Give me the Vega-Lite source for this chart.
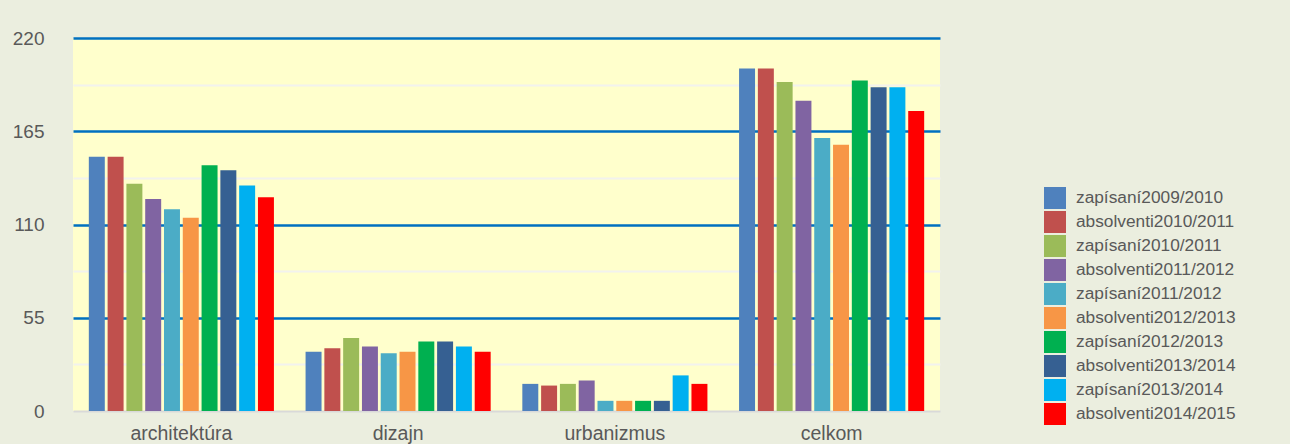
{
  "$schema": "https://vega.github.io/schema/vega-lite/v6.json",
  "width": 867,
  "height": 373,
  "autosize": {"type": "none"},
  "padding": {"left": 73, "top": 38, "right": 350, "bottom": 33},
  "background": "#EBEEDF",
  "data": {
    "values": [
      {"obor": "architektúra", "rok": "zapísaní2009/2010", "pocet": 150},
      {"obor": "architektúra", "rok": "absolventi2010/2011", "pocet": 150},
      {"obor": "architektúra", "rok": "zapísaní2010/2011", "pocet": 134},
      {"obor": "architektúra", "rok": "absolventi2011/2012", "pocet": 125},
      {"obor": "architektúra", "rok": "zapísaní2011/2012", "pocet": 119},
      {"obor": "architektúra", "rok": "absolventi2012/2013", "pocet": 114},
      {"obor": "architektúra", "rok": "zapísaní2012/2013", "pocet": 145},
      {"obor": "architektúra", "rok": "absolventi2013/2014", "pocet": 142},
      {"obor": "architektúra", "rok": "zapísaní2013/2014", "pocet": 133},
      {"obor": "architektúra", "rok": "absolventi2014/2015", "pocet": 126},
      {"obor": "dizajn", "rok": "zapísaní2009/2010", "pocet": 35},
      {"obor": "dizajn", "rok": "absolventi2010/2011", "pocet": 37},
      {"obor": "dizajn", "rok": "zapísaní2010/2011", "pocet": 43},
      {"obor": "dizajn", "rok": "absolventi2011/2012", "pocet": 38},
      {"obor": "dizajn", "rok": "zapísaní2011/2012", "pocet": 34},
      {"obor": "dizajn", "rok": "absolventi2012/2013", "pocet": 35},
      {"obor": "dizajn", "rok": "zapísaní2012/2013", "pocet": 41},
      {"obor": "dizajn", "rok": "absolventi2013/2014", "pocet": 41},
      {"obor": "dizajn", "rok": "zapísaní2013/2014", "pocet": 38},
      {"obor": "dizajn", "rok": "absolventi2014/2015", "pocet": 35},
      {"obor": "urbanizmus", "rok": "zapísaní2009/2010", "pocet": 16},
      {"obor": "urbanizmus", "rok": "absolventi2010/2011", "pocet": 15},
      {"obor": "urbanizmus", "rok": "zapísaní2010/2011", "pocet": 16},
      {"obor": "urbanizmus", "rok": "absolventi2011/2012", "pocet": 18},
      {"obor": "urbanizmus", "rok": "zapísaní2011/2012", "pocet": 6},
      {"obor": "urbanizmus", "rok": "absolventi2012/2013", "pocet": 6},
      {"obor": "urbanizmus", "rok": "zapísaní2012/2013", "pocet": 6},
      {"obor": "urbanizmus", "rok": "absolventi2013/2014", "pocet": 6},
      {"obor": "urbanizmus", "rok": "zapísaní2013/2014", "pocet": 21},
      {"obor": "urbanizmus", "rok": "absolventi2014/2015", "pocet": 16},
      {"obor": "celkom", "rok": "zapísaní2009/2010", "pocet": 202},
      {"obor": "celkom", "rok": "absolventi2010/2011", "pocet": 202},
      {"obor": "celkom", "rok": "zapísaní2010/2011", "pocet": 194},
      {"obor": "celkom", "rok": "absolventi2011/2012", "pocet": 183},
      {"obor": "celkom", "rok": "zapísaní2011/2012", "pocet": 161},
      {"obor": "celkom", "rok": "absolventi2012/2013", "pocet": 157},
      {"obor": "celkom", "rok": "zapísaní2012/2013", "pocet": 195},
      {"obor": "celkom", "rok": "absolventi2013/2014", "pocet": 191},
      {"obor": "celkom", "rok": "zapísaní2013/2014", "pocet": 191},
      {"obor": "celkom", "rok": "absolventi2014/2015", "pocet": 177}
    ]
  },
  "mark": {"type": "bar"},
  "encoding": {
    "x": {
      "field": "obor",
      "type": "nominal",
      "sort": ["architektúra", "dizajn", "urbanizmus", "celkom"],
      "scale": {"paddingInner": 0.146, "paddingOuter": 0.073},
      "axis": {
        "title": null,
        "labelAngle": 0,
        "ticks": false,
        "domain": true,
        "domainColor": "#D9D9D9",
        "domainWidth": 2,
        "labelPadding": 13,
        "labelFont": "Liberation Sans, Arial",
        "labelFontSize": 19.5,
        "labelColor": "#595959",
        "grid": false
      }
    },
    "xOffset": {
      "field": "rok",
      "type": "nominal",
      "sort": null,
      "scale": {"paddingInner": 0.15, "paddingOuter": 0}
    },
    "y": {
      "field": "pocet",
      "type": "quantitative",
      "scale": {"domain": [0, 220], "nice": false},
      "axis": {
        "title": null,
        "values": [0, 27.5, 55, 82.5, 110, 137.5, 165, 192.5, 220],
        "labelExpr": "datum.value % 55 === 0 ? datum.label : ''",
        "domain": false,
        "ticks": false,
        "labelPadding": 29,
        "labelFont": "Liberation Sans, Arial",
        "labelFontSize": 19,
        "labelColor": "#595959",
        "grid": true,
        "gridColor": {
          "condition": [
            {"test": "datum.value === 0", "value": "transparent"},
            {"test": "datum.value % 55 === 0", "value": "#0070C0"}
          ],
          "value": "#F2F2EE"
        },
        "gridWidth": {
          "condition": {"test": "datum.value % 55 === 0", "value": 2.5},
          "value": 2
        }
      }
    },
    "color": {
      "field": "rok",
      "type": "nominal",
      "sort": null,
      "scale": {
        "domain": ["zapísaní2009/2010", "absolventi2010/2011", "zapísaní2010/2011", "absolventi2011/2012", "zapísaní2011/2012", "absolventi2012/2013", "zapísaní2012/2013", "absolventi2013/2014", "zapísaní2013/2014", "absolventi2014/2015"],
        "range": ["#4F81BD", "#C0504D", "#9BBB59", "#8064A2", "#4BACC6", "#F79646", "#00B050", "#366092", "#00B0F0", "#FF0000"]
      },
      "legend": {
        "title": null,
        "orient": "none",
        "legendX": 971,
        "legendY": 149,
        "padding": 0,
        "symbolType": "square",
        "symbolSize": 484,
        "symbolStrokeWidth": 0,
        "symbolOpacity": 1,
        "rowPadding": 2,
        "labelOffset": 10,
        "labelFont": "Liberation Sans, Arial",
        "labelFontSize": 17.3,
        "labelColor": "#595959",
        "labelLimit": 300
      }
    }
  },
  "config": {
    "view": {"fill": "#FFFFCC", "stroke": null}
  }
}
